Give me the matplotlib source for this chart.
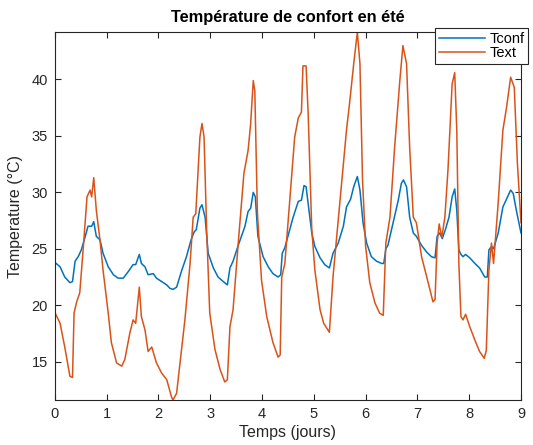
import matplotlib
matplotlib.use('Agg')
import matplotlib.pyplot as plt

plt.rcParams['font.family'] = ['Liberation Sans', 'DejaVu Sans']

# valeurs (jours, °C)
t_ext = [0.00, 0.10, 0.19, 0.29, 0.34, 0.37, 0.42, 0.48, 0.55, 0.62, 0.68, 0.71, 0.75, 0.80,
         0.87, 0.93, 1.03, 1.09, 1.19, 1.29, 1.35, 1.45, 1.51, 1.56, 1.63, 1.67, 1.74, 1.80,
         1.87, 1.96, 2.06, 2.16, 2.25, 2.28, 2.35, 2.45, 2.51, 2.61, 2.67, 2.72, 2.80, 2.84,
         2.88, 2.93, 2.99, 3.09, 3.19, 3.28, 3.33, 3.38, 3.44, 3.54, 3.65, 3.73, 3.78, 3.83,
         3.86, 3.91, 3.99, 4.09, 4.21, 4.31, 4.35, 4.38, 4.44, 4.54, 4.63, 4.70, 4.76, 4.79,
         4.85, 4.89, 4.96, 5.02, 5.12, 5.19, 5.30, 5.37, 5.47, 5.63, 5.69, 5.77, 5.84, 5.89,
         5.94, 6.00, 6.08, 6.18, 6.27, 6.34, 6.39, 6.47, 6.56, 6.66, 6.72, 6.79, 6.85, 6.92,
         6.98, 7.08, 7.18, 7.30, 7.34, 7.38, 7.42, 7.47, 7.53, 7.59, 7.67, 7.72, 7.76, 7.80,
         7.84, 7.88, 7.93, 8.01, 8.11, 8.20, 8.29, 8.33, 8.38, 8.43, 8.47, 8.56, 8.65, 8.72,
         8.80, 8.87, 8.93, 9.00]
text = [19.35, 18.4, 16.3, 13.7, 13.6, 19.3, 20.3, 21.1, 25.2, 29.6, 30.2, 29.6, 31.3, 28.4,
        25.8, 23.1, 19.3, 16.7, 14.9, 14.6, 15.2, 17.6, 18.7, 18.4, 21.6, 19.0, 17.8, 15.9,
        16.3, 14.9, 14.0, 13.4, 11.9, 11.6, 12.2, 16.3, 18.7, 23.7, 27.8, 28.1, 34.9, 36.1,
        34.9, 26.7, 19.3, 16.1, 14.3, 13.2, 13.4, 18.1, 19.6, 25.5, 31.7, 33.7, 36.1, 39.9,
        39.0, 28.2, 22.2, 19.0, 16.7, 15.4, 15.6, 22.5, 23.7, 29.6, 34.9, 36.6, 37.1, 41.2,
        41.2, 37.0, 26.7, 23.1, 19.6, 18.4, 17.6, 22.5, 27.5, 35.5, 37.9, 41.4, 44.2, 41.4,
        31.1, 25.2, 22.0, 20.2, 19.3, 19.1, 25.5, 27.8, 34.0, 39.9, 43.0, 41.4, 34.0, 27.8,
        27.3, 24.3, 22.5, 20.3, 20.5, 25.5, 27.2, 26.0, 27.8, 32.0, 39.6, 40.6, 35.5, 23.7,
        19.0, 18.7, 19.2, 18.1, 16.9, 15.9, 15.3, 16.0, 23.1, 25.5, 23.7, 29.1, 35.5, 37.5,
        40.2, 39.3, 32.6, 27.3]

t_conf = [0.00, 0.10, 0.19, 0.29, 0.34, 0.39, 0.45, 0.51, 0.58, 0.64, 0.71, 0.75, 0.80, 0.87,
          0.93, 1.03, 1.13, 1.22, 1.32, 1.42, 1.51, 1.56, 1.63, 1.67, 1.74, 1.80, 1.90, 1.96,
          2.06, 2.16, 2.22, 2.28, 2.35, 2.45, 2.54, 2.63, 2.69, 2.73, 2.80, 2.84, 2.90, 2.96,
          3.06, 3.15, 3.25, 3.33, 3.38, 3.44, 3.54, 3.67, 3.73, 3.78, 3.83, 3.87, 3.92, 4.02,
          4.12, 4.21, 4.31, 4.36, 4.39, 4.44, 4.50, 4.60, 4.70, 4.76, 4.81, 4.85, 4.89, 4.96,
          5.02, 5.12, 5.21, 5.30, 5.37, 5.47, 5.57, 5.63, 5.71, 5.77, 5.84, 5.89, 5.95, 6.02,
          6.11, 6.21, 6.31, 6.35, 6.39, 6.43, 6.53, 6.63, 6.69, 6.73, 6.79, 6.85, 6.92, 6.98,
          7.08, 7.18, 7.27, 7.34, 7.38, 7.43, 7.48, 7.54, 7.61, 7.67, 7.72, 7.76, 7.80, 7.84,
          7.88, 7.93, 8.01, 8.11, 8.20, 8.30, 8.35, 8.38, 8.43, 8.47, 8.56, 8.65, 8.74, 8.80,
          8.85, 8.91, 9.00]
tconf = [23.8, 23.4, 22.5, 22.0, 22.1, 23.9, 24.3, 24.9, 26.0, 27.0, 27.0, 27.4, 26.1, 25.8,
         24.6, 23.4, 22.7, 22.4, 22.4, 23.0, 23.6, 23.6, 24.5, 23.7, 23.4, 22.7, 22.8, 22.4,
         22.1, 21.8, 21.5, 21.4, 21.6, 23.1, 24.3, 25.8, 26.5, 26.7, 28.6, 28.9, 27.8, 24.6,
         23.3, 22.5, 22.1, 21.8, 23.3, 23.9, 25.3, 27.0, 28.3, 28.6, 30.0, 29.6, 26.1, 24.3,
         23.4, 22.8, 22.5, 22.7, 24.6, 25.1, 26.1, 27.8, 29.2, 29.3, 30.6, 30.5, 29.0, 26.4,
         25.2, 24.2, 23.6, 23.3, 24.6, 25.5, 27.0, 28.7, 29.4, 30.5, 31.4, 30.2, 27.3, 25.5,
         24.3, 23.9, 23.7, 23.7, 25.0, 25.3, 27.3, 29.3, 30.8, 31.1, 30.5, 27.8, 26.4, 26.1,
         25.3, 24.7, 24.3, 24.2, 26.1, 26.4, 25.9, 26.7, 27.8, 29.6, 30.3, 28.4, 24.9, 24.5,
         24.3, 24.5, 24.2, 23.7, 23.3, 22.5, 22.5, 24.9, 25.2, 25.0, 26.4, 28.7, 29.6, 30.2,
         29.9, 28.4, 26.4]

xticks = list(range(0, 10))
yticks = [15, 20, 25, 30, 35, 40]

axis_grey = '#262626'

fig = plt.figure(figsize=(5.33, 4.45), dpi=100)
ax = fig.add_axes([0.103, 0.101, 0.8745, 0.827])

ax.plot(t_conf, tconf, color='#0072BD', linewidth=1.1, label='Tconf')
ax.plot(t_ext, text, color='#D95319', linewidth=1.1, label='Text')

ax.set_xlim(0, 9)
ax.set_ylim(11.6, 44.2)
ax.set_xticks(xticks)
ax.set_yticks(yticks)
ax.tick_params(direction='in', top=True, right=True, length=4, width=0.8,
               labelsize=10.5, colors=axis_grey, pad=5)
for s in ax.spines.values():
    s.set_color(axis_grey)
    s.set_linewidth(0.8)

ax.set_title('Température de confort en été', fontsize=11.8, fontweight='bold', pad=7)
ax.set_xlabel('Temps (jours)', fontsize=11.5, color=axis_grey, labelpad=3)
ax.set_ylabel('Temperature (°C)', fontsize=11.5, color=axis_grey, labelpad=6)

# légende qui déborde à droite, comme sur l'original
leg = fig.legend(loc='upper left', bbox_to_anchor=(0.816, 0.936), fontsize=10.5,
                 fancybox=False, framealpha=1, edgecolor=axis_grey, handlelength=3.2,
                 borderpad=0.25, labelspacing=0.0, handletextpad=0.3, borderaxespad=0)
leg.get_frame().set_linewidth(0.8)

fig.savefig('out.png', dpi=100)
